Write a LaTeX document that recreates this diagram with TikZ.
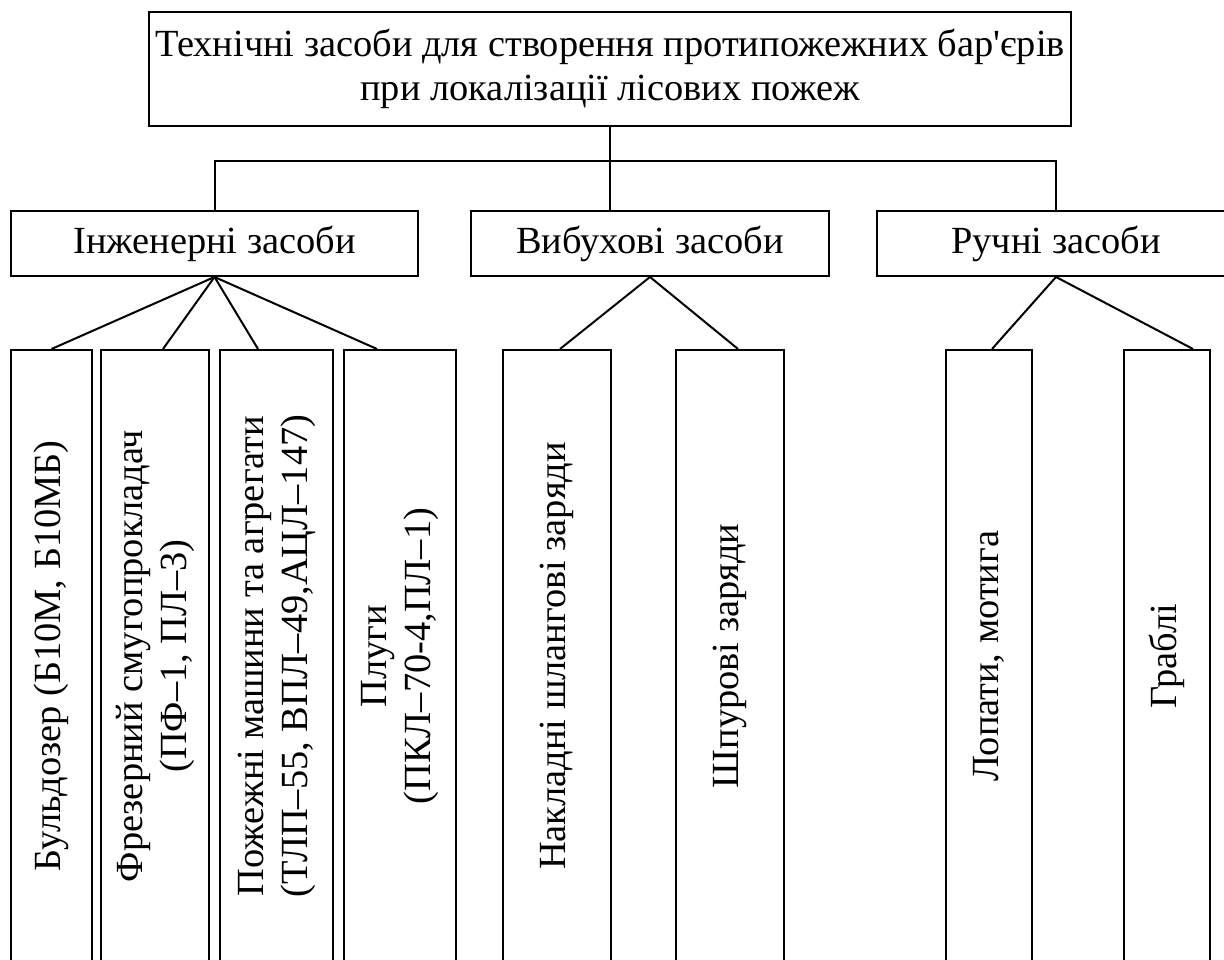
\documentclass[tikz,border=0pt]{standalone}
\usepackage{fontspec}
\setmainfont{Liberation Serif}[Ligatures=TeXOff]
\begin{document}
\begin{tikzpicture}[x=1pt,y=-1pt,
  box/.style={draw, line width=2pt, inner sep=0pt, align=center,
    font=\fontsize{38.4}{44}\selectfont},
  vbox/.style={box, rotate=90, minimum width=612pt},
  link/.style={line width=2pt}]
\useasboundingbox (0,0) rectangle (1224,960);
\clip (0,0) rectangle (1224,960);
% top
\node[box, minimum width=922pt, minimum height=114pt] (top) at (610,69)
  {Технічні засоби для створення протипожежних бар'єрів\\при локалізації лісових пожеж};
% middle
\node[box, minimum width=407pt, minimum height=65pt] (ing) at (214.5,243.5) {Інженерні засоби};
\node[box, minimum width=358pt, minimum height=65pt] (vyb) at (650,243.5) {Вибухові засоби};
\node[box, minimum width=358pt, minimum height=65pt] (ruch) at (1056,243.5) {Ручні засоби};
% bottom
\node[vbox, minimum height=81pt] (a) at (51.5,656) {Бульдозер (Б10М, Б10МБ)};
\node[vbox, minimum height=108pt] (b) at (155,656) {Фрезерний смугопрокладач\\(ПФ–1, ПЛ–3)};
\node[vbox, minimum height=113pt] (c) at (276.5,656) {Пожежні машини та агрегати\\(ТЛП–55, ВПЛ–49,АЦЛ–147)};
\node[vbox, minimum height=112pt] (d) at (400,656) {Плуги\\(ПКЛ–70-4,ПЛ–1)};
\node[vbox, minimum height=108pt] (g) at (557,656) {Накладні шлангові заряди};
\node[vbox, minimum height=108pt] (h) at (730,656) {Шпурові заряди};
\node[vbox, minimum height=86pt] (e) at (989,656) {Лопати, мотига};
\node[vbox, minimum height=86pt] (f) at (1167,656) {Граблі};
% connectors
\coordinate (bus) at (610,161);
\draw[link] (top.south) -- (top.south |- vyb.north);
\draw[link] (ing.north) -- (ing.north |- bus) -- (ruch.north |- bus) -- (ruch.north);
\draw[link] (ing.south) -- (a.east);
\draw[link] (ing.south) -- ([xshift=8pt]b.east);
\draw[link] (ing.south) -- ([xshift=-18.5pt]c.east);
\draw[link] (ing.south) -- ([xshift=-23pt]d.east);
\draw[link] (vyb.south) -- ([xshift=3pt]g.east);
\draw[link] (vyb.south) -- ([xshift=8pt]h.east);
\draw[link] (ruch.south) -- ([xshift=3pt]e.east);
\draw[link] (ruch.south) -- ([xshift=26pt]f.east);
\end{tikzpicture}
\end{document}
